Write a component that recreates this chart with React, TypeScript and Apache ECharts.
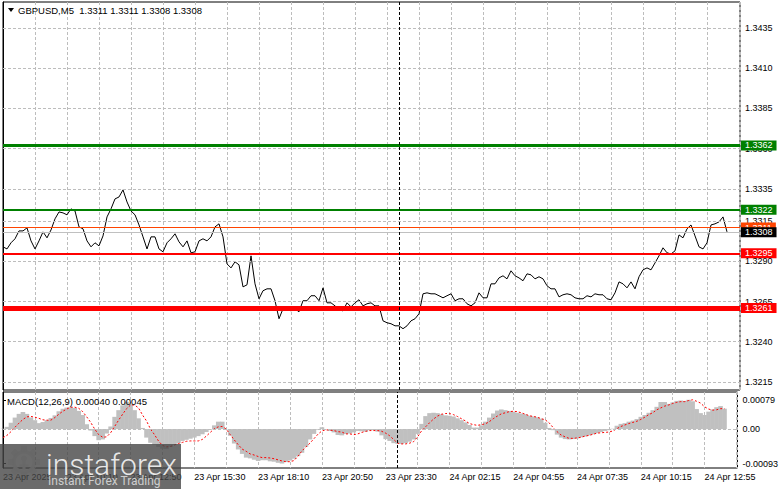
import React, { useEffect, useRef } from 'react';
import * as echarts from 'echarts';

// ---- data (one sample every 2 M5 bars) ----
const closePrices = [
  1.32990, 1.32977, 1.33015, 1.33040, 1.33089, 1.33089, 1.33108, 1.33027, 1.32977, 1.33027,
  1.33083, 1.33046, 1.33095, 1.33164, 1.33207, 1.33201, 1.33189, 1.33226, 1.33213, 1.33114,
  1.33102, 1.33027, 1.32990, 1.33015, 1.32996, 1.33058, 1.33176, 1.33226, 1.33288, 1.33300,
  1.33344, 1.33269, 1.33213, 1.33189, 1.33126, 1.33052, 1.32977, 1.33052, 1.33052, 1.32977,
  1.32959, 1.33015, 1.33040, 1.33071, 1.33021, 1.32990, 1.33027, 1.32953, 1.32959, 1.33027,
  1.33040, 1.33027, 1.33052, 1.33114, 1.33133, 1.33052, 1.32884, 1.32859, 1.32897, 1.32878,
  1.32741, 1.32754, 1.32934, 1.32760, 1.32667, 1.32717, 1.32729, 1.32729, 1.32655, 1.32543,
  1.32605, 1.32605, 1.32592, 1.32605, 1.32586, 1.32655, 1.32655, 1.32686, 1.32686, 1.32655,
  1.32735, 1.32642, 1.32642, 1.32623, 1.32599, 1.32592, 1.32642, 1.32617, 1.32642, 1.32661,
  1.32623, 1.32636, 1.32642, 1.32623, 1.32623, 1.32530, 1.32518, 1.32512, 1.32499, 1.32499,
  1.32481, 1.32499, 1.32530, 1.32543, 1.32574, 1.32698, 1.32704, 1.32698, 1.32698, 1.32686,
  1.32673, 1.32686, 1.32698, 1.32655, 1.32667, 1.32667, 1.32636, 1.32623, 1.32642, 1.32704,
  1.32673, 1.32673, 1.32760, 1.32760, 1.32797, 1.32810, 1.32791, 1.32841, 1.32810, 1.32797,
  1.32779, 1.32822, 1.32816, 1.32791, 1.32804, 1.32791, 1.32748, 1.32729, 1.32729, 1.32679,
  1.32692, 1.32698, 1.32692, 1.32673, 1.32667, 1.32667, 1.32686, 1.32679, 1.32698, 1.32692,
  1.32692, 1.32667, 1.32661, 1.32704, 1.32772, 1.32760, 1.32735, 1.32772, 1.32729, 1.32804,
  1.32847, 1.32859, 1.32847, 1.32890, 1.32934, 1.32984, 1.32953, 1.32946, 1.32965, 1.33064,
  1.33046, 1.33102, 1.33126, 1.33058, 1.32990, 1.32977, 1.33015, 1.33126, 1.33133, 1.33145,
  1.33176, 1.33083,
];

const macdHist = [
  0.00001, 0.00006, 0.00017, 0.00031, 0.00041, 0.00046, 0.00041, 0.00031, 0.00024, 0.00016,
  0.00019, 0.00024, 0.00030, 0.00037, 0.00048, 0.00055, 0.00058, 0.00059, 0.00057, 0.00049,
  0.00038, 0.00013, -0.00004, -0.00019, -0.00030, -0.00028, -0.00012, 0.00007, 0.00033, 0.00051,
  0.00064, 0.00074, 0.00067, 0.00051, 0.00029, 0.00003, -0.00023, -0.00037, -0.00042, -0.00048,
  -0.00053, -0.00054, -0.00048, -0.00043, -0.00038, -0.00032, -0.00029, -0.00026, -0.00023, -0.00019,
  -0.00014, -0.00008, -0.00002, 0.00010, 0.00020, 0.00020, -0.00001, -0.00018, -0.00039, -0.00055,
  -0.00067, -0.00077, -0.00079, -0.00083, -0.00086, -0.00084, -0.00084, -0.00087, -0.00088, -0.00091,
  -0.00093, -0.00089, -0.00085, -0.00080, -0.00073, -0.00064, -0.00048, -0.00028, -0.00013, -0.00002,
  0.00005, 0.00000, -0.00005, -0.00009, -0.00016, -0.00017, -0.00013, -0.00012, -0.00009, -0.00005,
  -0.00006, -0.00007, -0.00003, -0.00003, -0.00007, -0.00017, -0.00027, -0.00032, -0.00038, -0.00040,
  -0.00040, -0.00038, -0.00034, -0.00028, -0.00013, 0.00014, 0.00035, 0.00043, 0.00044, 0.00043,
  0.00040, 0.00037, 0.00036, 0.00034, 0.00029, 0.00024, 0.00018, 0.00011, 0.00004, 0.00004,
  0.00010, 0.00020, 0.00031, 0.00042, 0.00050, 0.00053, 0.00051, 0.00049, 0.00047, 0.00044,
  0.00042, 0.00040, 0.00036, 0.00034, 0.00032, 0.00028, 0.00017, 0.00003, -0.00003, -0.00015,
  -0.00023, -0.00027, -0.00028, -0.00027, -0.00025, -0.00022, -0.00020, -0.00017, -0.00014, -0.00011,
  -0.00008, -0.00005, -0.00003, 0.00001, 0.00009, 0.00014, 0.00016, 0.00020, 0.00023, 0.00027,
  0.00033, 0.00038, 0.00044, 0.00051, 0.00060, 0.00073, 0.00073, 0.00068, 0.00072, 0.00076,
  0.00077, 0.00076, 0.00079, 0.00075, 0.00054, 0.00043, 0.00038, 0.00047, 0.00053, 0.00059,
  0.00062, 0.00055,
];

const macdSignal = [
  -0.00023, -0.00017, -0.00007, 0.00005, 0.00016, 0.00026, 0.00033, 0.00034, 0.00032, 0.00029,
  0.00025, 0.00024, 0.00024, 0.00031, 0.00040, 0.00048, 0.00054, 0.00059, 0.00059, 0.00056,
  0.00047, 0.00033, 0.00018, 0.00000, -0.00015, -0.00022, -0.00021, -0.00010, 0.00007, 0.00024,
  0.00040, 0.00055, 0.00065, 0.00065, 0.00057, 0.00038, 0.00022, 0.00000, -0.00015, -0.00032,
  -0.00044, -0.00048, -0.00047, -0.00043, -0.00039, -0.00036, -0.00033, -0.00032, -0.00032, -0.00032,
  -0.00028, -0.00019, -0.00009, 0.00001, 0.00006, 0.00007, 0.00000, -0.00015, -0.00029, -0.00042,
  -0.00054, -0.00060, -0.00067, -0.00070, -0.00074, -0.00077, -0.00077, -0.00078, -0.00080, -0.00083,
  -0.00086, -0.00088, -0.00088, -0.00085, -0.00073, -0.00059, -0.00048, -0.00038, -0.00026, -0.00014,
  -0.00005, -0.00002, -0.00003, -0.00004, -0.00007, -0.00008, -0.00013, -0.00013, -0.00015, -0.00013,
  -0.00009, -0.00006, -0.00004, -0.00004, -0.00004, -0.00006, -0.00011, -0.00018, -0.00028, -0.00038,
  -0.00040, -0.00040, -0.00038, -0.00034, -0.00021, -0.00005, 0.00006, 0.00017, 0.00027, 0.00035,
  0.00040, 0.00042, 0.00042, 0.00039, 0.00034, 0.00028, 0.00022, 0.00015, 0.00012, 0.00010,
  0.00012, 0.00014, 0.00020, 0.00028, 0.00035, 0.00041, 0.00044, 0.00047, 0.00048, 0.00047,
  0.00044, 0.00040, 0.00036, 0.00034, 0.00032, 0.00028, 0.00025, 0.00017, 0.00004, -0.00007,
  -0.00016, -0.00021, -0.00025, -0.00025, -0.00024, -0.00022, -0.00019, -0.00017, -0.00014, -0.00011,
  -0.00010, -0.00009, -0.00008, -0.00005, 0.00001, 0.00007, 0.00011, 0.00015, 0.00018, 0.00021,
  0.00026, 0.00032, 0.00039, 0.00044, 0.00052, 0.00057, 0.00062, 0.00065, 0.00069, 0.00072,
  0.00074, 0.00074, 0.00077, 0.00079, 0.00075, 0.00070, 0.00060, 0.00054, 0.00051, 0.00052,
  0.00055, 0.00055,
];

const BARS_PER_SAMPLE = 2;
const LABEL_EVERY_BARS = 32;
const timeLabels = [
  '23 Apr 2025', '23 Apr 10:10', '23 Apr 12:50', '23 Apr 15:30', '23 Apr 18:10', '23 Apr 20:50',
  '23 Apr 23:30', '24 Apr 02:15', '24 Apr 04:55', '24 Apr 07:35', '24 Apr 10:15', '24 Apr 12:55',
];
const priceTicks = [1.3215, 1.3240, 1.3265, 1.3290, 1.3315, 1.3335, 1.3360, 1.3385, 1.3410, 1.3435];
const priceTickLabels = ['1.3215', '1.3240', '1.3265', '1.3290', '1.3315', '1.3335', '1.3360', '1.3385', '1.3410', '1.3435'];
const macdTicks = [-0.00093, 0, 0.00079];
const macdTickLabels = ['-0.00093', '0.00', '0.00079'];
const levelPrices = [1.3362, 1.3322, 1.3311, 1.3308, 1.3295, 1.3261];
const levelLabels = ['1.3362', '1.3322', '1.3311', '1.3308', '1.3295', '1.3261'];
const separatorBar = 198;
const titleText = 'GBPUSD,M5  1.3311 1.3311 1.3308 1.3308';
const macdTitle = 'MACD(12,26,9) 0.00040 0.00045';

// ---- styles ----
const FONT = '"Liberation Sans", Arial, sans-serif';
const GRID_COLOR = '#bdbdbd';
const levelStyles = [
  { color: '#008000', width: 3, bg: '#008000', fg: '#ffffff' },
  { color: '#008000', width: 2, bg: '#008000', fg: '#ffffff' },
  { color: '#ff4500', width: 1, bg: '#ff4500', fg: '#ffffff' },
  { color: '#c0c0c0', width: 1, bg: '#000000', fg: '#ffffff' },
  { color: '#ff0000', width: 2, bg: '#ff0000', fg: '#ffffff' },
  { color: '#ff0000', width: 5, bg: '#ff0000', fg: '#ffffff' },
];
const LABEL_BOX_HALF = 5; // px, half height of a level's price box

const X_MAX = 368.5;

function buildGear() {
  const fill = 'rgba(235,235,235,0.92)';
  const teeth = [];
  for (let i = 0; i < 8; i++) {
    teeth.push({
      type: 'rect',
      rotation: (i * Math.PI) / 4,
      shape: { x: -3.2, y: -16, width: 6.4, height: 6 },
      style: { fill },
    });
  }
  return {
    type: 'group',
    x: 24,
    y: 462,
    z: 101,
    children: [
      ...teeth,
      { type: 'ring', shape: { cx: 0, cy: 0, r: 12, r0: 8.5 }, style: { fill } },
      { type: 'circle', shape: { cx: 0, cy: -3.5, r: 3 }, style: { fill } },
      { type: 'rect', shape: { x: -1.6, y: -1, width: 3.2, height: 9 }, style: { fill } },
      { type: 'rect', shape: { x: -4.5, y: 2.5, width: 9, height: 2 }, style: { fill } },
    ],
  };
}

export default function App() {
  const ref = useRef<HTMLDivElement>(null);

  useEffect(() => {
    if (!ref.current) return;
    const chart = echarts.init(ref.current, null, { renderer: 'svg' });

    const priceData = closePrices.map((p, k) => [k * BARS_PER_SAMPLE, p]);
    const histData = macdHist.map((v, k) => [k * BARS_PER_SAMPLE, v]);
    const signalData = macdSignal.map((v, k) => [k * BARS_PER_SAMPLE, v]);

    const xSplit = { show: true, lineStyle: { color: GRID_COLOR, type: [3, 2], width: 1 } };
    const gridDash = { color: GRID_COLOR, type: [3, 2], width: 1 };

    const priceMarkData: any[] = [
      ...priceTicks.map((t) => [
        { coord: [0, t], lineStyle: gridDash, label: { show: false } },
        { coord: [X_MAX, t] },
      ]),
      ...levelPrices.map((p, i) => [
        {
          coord: [0, p],
          lineStyle: { color: levelStyles[i].color, width: levelStyles[i].width, type: 'solid' },
          label: {
            show: true, position: 'end', distance: 1, formatter: levelLabels[i],
            color: levelStyles[i].fg, backgroundColor: levelStyles[i].bg,
            padding: [0, 4, 0, 4], fontSize: 9, fontFamily: FONT, lineHeight: 10,
          },
        },
        { coord: [X_MAX, p] },
      ]),
      { xAxis: separatorBar, lineStyle: { color: '#000', type: [3, 2], width: 1 }, label: { show: false } },
    ];

    const baseGraphics: any[] = [
      { type: 'polygon', z: 50, shape: { points: [[8, 8], [14, 8], [11, 12]] }, style: { fill: '#000' } },
      {
        type: 'text', z: 50, x: 18, y: 10,
        style: { text: titleText, font: `9.5px ${FONT}`, fill: '#000', textVerticalAlign: 'middle', verticalAlign: 'middle' },
      },
      {
        type: 'text', z: 50, x: 7, y: 401,
        style: { text: macdTitle, font: `9.5px ${FONT}`, fill: '#000', textVerticalAlign: 'middle', verticalAlign: 'middle' },
      },
      { type: 'rect', z: 100, shape: { x: 0, y: 444, width: 181, height: 45 }, style: { fill: 'rgba(70,70,70,0.8)' } },
      buildGear(),
      {
        type: 'text', z: 101, x: 46, y: 464,
        style: { text: 'instaforex', font: `300 30px Roboto`, fill: 'rgba(240,240,240,0.95)', textVerticalAlign: 'middle', verticalAlign: 'middle' },
      },
      {
        type: 'text', z: 101, x: 48, y: 481,
        style: { text: 'Instant Forex Trading', font: `12px Roboto`, fill: 'rgba(225,225,225,0.85)', textVerticalAlign: 'middle', verticalAlign: 'middle' },
      },
    ];

    const option: any = {
      animation: false,
      backgroundColor: '#ffffff',
      textStyle: { fontFamily: FONT },
      grid: [
        { left: 3, top: 2, width: 737, height: 388, show: true, borderColor: '#000', borderWidth: 1, backgroundColor: 'transparent' },
        { left: 3, top: 392, width: 737, height: 76, show: true, borderColor: '#000', borderWidth: 1, backgroundColor: 'transparent' },
      ],
      xAxis: [
        {
          gridIndex: 0, type: 'value', min: 0, max: X_MAX, interval: 16,
          axisLine: { show: false }, axisTick: { show: false }, axisLabel: { show: false },
          splitLine: xSplit,
        },
        {
          gridIndex: 1, type: 'value', min: 0, max: X_MAX, interval: 16,
          axisLine: { show: false }, axisTick: { show: false },
          axisLabel: {
            show: true, color: '#000', fontSize: 9, fontFamily: FONT, align: 'left', margin: 4,
            showMinLabel: true, showMaxLabel: true, hideOverlap: false,
            formatter: (v: number) => {
              if (v % LABEL_EVERY_BARS !== 0) return '';
              return timeLabels[v / LABEL_EVERY_BARS] ?? '';
            },
          },
          splitLine: xSplit,
        },
      ],
      yAxis: [
        {
          gridIndex: 0, type: 'value', position: 'right', min: 1.3210, max: 1.34512, scale: true,
          axisLine: { show: true, lineStyle: { color: '#000', width: 1 } },
          axisTick: { show: true, customValues: priceTicks, length: 3, lineStyle: { color: '#000' } },
          axisLabel: { show: false },
          splitLine: { show: false },
        },
        {
          gridIndex: 1, type: 'value', position: 'right', min: -0.00105, max: 0.001,
          axisLine: { show: true, lineStyle: { color: '#000', width: 1 } },
          axisTick: { show: true, customValues: macdTicks, length: 3, lineStyle: { color: '#000' } },
          axisLabel: {
            show: true, customValues: macdTicks, color: '#000', fontSize: 9, fontFamily: FONT, margin: 5,
            hideOverlap: false,
            formatter: (v: number) => {
              const i = macdTicks.findIndex((t) => Math.abs(t - v) < 1e-9);
              return i >= 0 ? macdTickLabels[i] : '';
            },
          },
          splitLine: { show: false },
        },
      ],
      series: [
        {
          type: 'line', xAxisIndex: 0, yAxisIndex: 0, data: priceData, z: 3,
          symbol: 'none', lineStyle: { color: '#000', width: 1 },
          markLine: {
            silent: true, symbol: ['none', 'none'], animation: false, precision: 5,
            data: priceMarkData,
          },
        },
        {
          type: 'bar', xAxisIndex: 1, yAxisIndex: 1, data: histData, barWidth: 4.6, z: 2,
          itemStyle: { color: '#c0c0c0' },
        },
        {
          type: 'line', xAxisIndex: 1, yAxisIndex: 1, data: signalData, z: 3,
          symbol: 'none', lineStyle: { color: '#ff0000', width: 1, type: [2, 2] },
          markLine: {
            silent: true, symbol: ['none', 'none'], animation: false,
            data: [
              [{ coord: [0, 0], lineStyle: gridDash, label: { show: false } }, { coord: [X_MAX, 0] }],
              { xAxis: separatorBar, lineStyle: { color: '#000', type: [3, 2], width: 1 }, label: { show: false } },
            ],
          },
        },
      ],
      graphic: baseGraphics,
    };

    chart.setOption(option);

    // price scale labels, positioned through the chart's own y scale.
    // A label that a level's price box would cover is drawn beneath the boxes, others above.
    const levelYs = levelPrices.map((p) => chart.convertToPixel({ yAxisIndex: 0 }, p) as number);
    const tickTexts = priceTicks.map((t, i) => {
      const y = chart.convertToPixel({ yAxisIndex: 0 }, t) as number;
      const covered = levelYs.some((ly) => Math.abs(ly - y) < LABEL_BOX_HALF + 2);
      return {
        type: 'text', z: covered ? 0 : 200, x: 745, y,
        style: {
          text: priceTickLabels[i], font: `9px ${FONT}`, fill: '#000',
          textVerticalAlign: 'middle', verticalAlign: 'middle',
        },
      };
    });
    chart.setOption({ graphic: [...baseGraphics, ...tickTexts] });

    return () => chart.dispose();
  }, []);

  return (
    <div
      ref={ref}
      style={{ position: 'absolute', left: 0, top: 0, width: 781, height: 489, background: '#fff' }}
    />
  );
}
